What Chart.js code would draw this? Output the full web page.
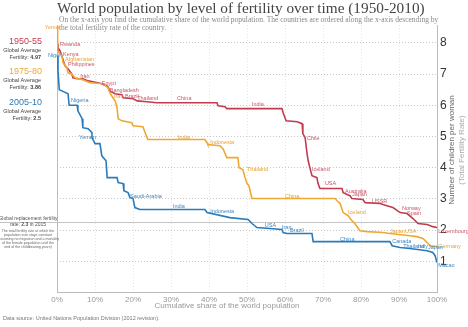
<!DOCTYPE html>
<html>
<head>
<meta charset="utf-8">
<style>
  html, body { margin: 0; padding: 0; background: #fff; }
</style>
</head>
<body>
<canvas id="fert" width="468" height="327"></canvas>
<script src="https://cdn.jsdelivr.net/npm/chart.js@4.4.0/dist/chart.umd.min.js"></script>
<script>
// cumulative share of world population (%) and total fertility rate
var red5055X = [0, 0.26, 0.8, 1.3, 2.1, 2.9, 3.9, 4.2, 5.3, 6.8, 8.2, 10.8, 11.8, 13.4, 13.9, 15.3, 17.1, 17.4, 20.0, 21.1, 23.7, 26.3, 42.1, 42.4, 44.2, 44.7, 59.2, 59.5, 60.3, 63.2, 64.5, 64.7, 65.3, 65.8, 66.1, 66.6, 67.1, 68.4, 68.7, 69.2, 75.0, 75.3, 77.1, 77.6, 80.5, 81.1, 85.0, 86.8, 88.4, 90.3, 92.1, 93.7, 95.0, 97.4, 98.9, 100];
var red5055Y = [7.97, 7.84, 7.74, 7.58, 7.26, 7.17, 7.0, 6.88, 6.85, 6.85, 6.78, 6.72, 6.69, 6.59, 6.46, 6.37, 6.34, 6.24, 6.21, 6.14, 6.11, 6.08, 6.08, 5.98, 5.95, 5.89, 5.89, 5.76, 5.5, 5.47, 5.41, 5.09, 4.96, 4.45, 4.22, 3.97, 3.74, 3.68, 3.49, 3.33, 3.33, 3.2, 3.1, 3.01, 2.98, 2.88, 2.85, 2.78, 2.72, 2.56, 2.53, 2.37, 2.21, 2.18, 2.11, 2.08];

var orange7580X = [0, 0.08, 0.26, 1.3, 1.6, 2.6, 2.9, 3.9, 4.7, 6.05, 8.7, 12.1, 13.4, 13.9, 14.7, 15.3, 15.8, 16.1, 17.1, 19.7, 20.0, 22.6, 23.2, 23.9, 38.9, 39.5, 39.7, 42.9, 43.7, 44.7, 47.6, 47.9, 48.9, 49.5, 50.0, 50.5, 51.3, 73.2, 73.7, 74.5, 75.3, 76.6, 77.6, 78.4, 79.7, 81.6, 85.8, 87.6, 92.9, 94.7, 96.3, 97.4, 98.2, 100];
var orange7580Y = [8.54, 7.81, 7.74, 7.58, 7.36, 7.2, 7.04, 7.0, 6.88, 6.85, 6.72, 6.69, 6.56, 6.4, 6.24, 6.14, 5.92, 5.57, 5.5, 5.44, 5.34, 5.31, 5.12, 4.9, 4.9, 4.8, 4.74, 4.7, 4.6, 4.32, 4.32, 4.0, 3.94, 3.68, 3.49, 3.42, 3.01, 3.01, 2.94, 2.85, 2.56, 2.46, 2.3, 2.21, 1.98, 1.95, 1.92, 1.89, 1.82, 1.79, 1.73, 1.6, 1.5, 1.47];

var blue0510X = [0, 0.26, 0.6, 1.3, 2.9, 3.2, 5.3, 5.5, 6.6, 6.8, 8.2, 9.2, 9.2, 10.0, 11.3, 11.8, 12.9, 13.2, 15.8, 16.1, 17.4, 17.6, 18.7, 19.2, 20.0, 20.5, 21.8, 38.9, 39.5, 45.5, 50.3, 51.3, 52.6, 59.2, 59.5, 60.5, 67.1, 67.4, 87.6, 88.2, 90.3, 92.9, 97.4, 98.9, 99.5, 100];
var blue0510Y = [7.58, 7.1, 6.5, 6.46, 6.37, 6.0, 6.0, 5.82, 5.57, 5.28, 5.25, 5.12, 4.96, 4.77, 4.77, 4.38, 4.22, 3.68, 3.68, 3.52, 3.49, 3.26, 3.2, 3.04, 3.01, 2.72, 2.66, 2.66, 2.56, 2.4, 2.34, 2.21, 2.08, 2.02, 1.92, 1.89, 1.89, 1.63, 1.63, 1.5, 1.44, 1.41, 1.34, 1.28, 1.18, 0.96];

// country labels on the curves
var redNames = ['Rwanda', 'Kenya', 'Philippines', 'Iran', 'Egypt', 'Bangladesh', 'Brazil', 'Thailand', 'China', 'India', 'Chile', 'Iceland', 'USA', 'Australia', 'Japan', 'USSR', 'Norway', 'Spain', 'Luxembourg'];
var redLabelX = [0.8, 1.6, 2.9, 6.1, 11.8, 13.9, 17.9, 21.1, 31.6, 51.3, 65.8, 67.1, 70.5, 75.8, 77.6, 82.9, 90.8, 92.1, 100.3];
var redLabelY = [7.93, 7.61, 7.29, 6.91, 6.71, 6.46, 6.27, 6.23, 6.23, 6.01, 4.92, 3.93, 3.48, 3.25, 3.13, 2.93, 2.68, 2.52, 1.94];

var orangeNames = ['Yemen', 'Afghanistan', 'Iran', 'India', 'Indonesia', 'Thailand', 'China', 'Iceland', 'Japan', 'USA', 'Germany'];
var orangeLabelX = [-3.2, 2.1, 15.0, 31.8, 40.3, 50.0, 60.0, 76.6, 87.6, 91.6, 100.3];
var orangeLabelY = [8.48, 7.48, 6.27, 4.98, 4.82, 3.93, 3.09, 2.55, 1.94, 1.94, 1.49];

var blueNames = ['Niger', 'Nigeria', 'Yemen', 'Saudi-Arabia', 'India', 'Indonesia', 'USA', 'Iran', 'Brazil', 'China', 'Canada', 'Thailand', 'Italy', 'Japan', 'Macao'];
var blueLabelX = [-2.4, 3.7, 5.8, 19.2, 30.5, 40.3, 54.7, 59.2, 61.3, 74.5, 88.2, 91.1, 95.0, 97.6, 100.3];
var blueLabelY = [7.58, 6.14, 4.98, 3.09, 2.74, 2.61, 2.16, 2.07, 2.0, 1.71, 1.62, 1.49, 1.46, 1.43, 0.85];

var periods = ['1950-55', '1975-80', '2005-10'];
var globalAverages = ['4.97', '3.86', '2.5'];
var replacementRate = 2.27;

var RED = '#c23b4e', ORANGE = '#f0a834', BLUE = '#2b7bba';

function points(xs, ys) {
   var pts = [];
   for (var i = 0; i < xs.length; i++) {
      pts.push({x: xs[i], y: ys[i]});
   }
   return pts;
}

var overlay = {
   id: 'overlay',
   beforeDatasetsDraw: function (chart) {
      var ctx = chart.ctx, y = chart.scales.y, area = chart.chartArea;
      var py = Math.round(y.getPixelForValue(replacementRate)) + 0.5;
      ctx.save();
      ctx.strokeStyle = '#c4c4c4';
      ctx.lineWidth = 1;
      ctx.beginPath();
      ctx.moveTo(0, py);
      ctx.lineTo(area.right, py);
      ctx.stroke();
      ctx.restore();
   },
   afterDraw: function (chart) {
      var ctx = chart.ctx, x = chart.scales.x, y = chart.scales.y;
      ctx.save();

      // title + subtitle
      ctx.textBaseline = 'alphabetic';
      ctx.textAlign = 'left';
      ctx.fillStyle = '#444';
      var title = 'World population by level of fertility over time (1950-2010)';
      ctx.font = '16px "Liberation Serif"';
      var tsize = 16 * 368 / ctx.measureText(title).width;
      ctx.font = tsize.toFixed(2) + 'px "Liberation Serif"';
      ctx.fillText(title, 57, 13);
      ctx.fillStyle = '#888';
      ctx.font = '7.5px "Liberation Serif"';
      ctx.fillText('On the x-axis you find the cumulative share of the world population. The countries are ordered along the x-axis descending by', 59, 22);
      ctx.fillText('the total fertility rate of the country.', 59, 30);

      // curve labels
      ctx.font = '5.5px "Liberation Sans"';
      ctx.textBaseline = 'middle';
      var groups = [
         [redNames, redLabelX, redLabelY, '#c9566a'],
         [orangeNames, orangeLabelX, orangeLabelY, '#e9a232'],
         [blueNames, blueLabelX, blueLabelY, '#3d87c2']
      ];
      groups.forEach(function (g) {
         ctx.fillStyle = g[3];
         for (var i = 0; i < g[0].length; i++) {
            ctx.fillText(g[0][i], x.getPixelForValue(g[1][i]), y.getPixelForValue(g[2][i]));
         }
      });

      // left side legend
      var colors = [RED, ORANGE, BLUE];
      var tops = [42, 72, 103];
      ctx.textAlign = 'right';
      for (var k = 0; k < periods.length; k++) {
         ctx.fillStyle = colors[k];
         ctx.font = '9px "Liberation Sans"';
         ctx.fillText(periods[k], 42, tops[k]);
         ctx.fillStyle = '#444';
         ctx.font = '5.5px "Liberation Sans"';
         ctx.fillText('Global Average', 41, tops[k] + 8);
         ctx.font = 'bold 5.5px "Liberation Sans"';
         var w = ctx.measureText(globalAverages[k]).width;
         ctx.fillText(globalAverages[k], 41, tops[k] + 15);
         ctx.font = '5.5px "Liberation Sans"';
         ctx.fillText('Fertility: ', 41 - w, tops[k] + 15);
      }

      // replacement fertility note
      var py = y.getPixelForValue(replacementRate);
      ctx.textAlign = 'center';
      ctx.fillStyle = '#555';
      ctx.font = '5px "Liberation Sans"';
      ctx.fillText('Global replacement fertility', 28, py - 3);
      ctx.font = 'bold 5px "Liberation Sans"';
      var bw = ctx.measureText('2.3').width;
      ctx.font = '5px "Liberation Sans"';
      var aw = ctx.measureText('rate: ').width, cw = ctx.measureText(' in 2015').width;
      var sx = 28 - (aw + bw + cw) / 2;
      ctx.textAlign = 'left';
      ctx.fillText('rate: ', sx, py + 3);
      ctx.font = 'bold 5px "Liberation Sans"';
      ctx.fillText('2.3', sx + aw, py + 3);
      ctx.font = '5px "Liberation Sans"';
      ctx.fillText(' in 2015', sx + aw + bw, py + 3);
      ctx.textAlign = 'center';
      ctx.font = '3.6px "Liberation Sans"';
      ctx.fillStyle = '#666';
      var note = ['The total fertility rate at which the', 'population size stays constant', '(assuming no migration and a mortality', 'of the female population until the', 'end of the childbearing years)'];
      for (var n = 0; n < note.length; n++) {
         ctx.fillText(note[n], 28, py + 9 + n * 4);
      }

      // axis titles
      ctx.fillStyle = '#999';
      ctx.font = '8px "Liberation Sans"';
      ctx.fillText('Cumulative share of the world population', 227, 306);
      ctx.translate(452, 150);
      ctx.rotate(-Math.PI / 2);
      ctx.fillStyle = '#666';
      ctx.font = '8px "Liberation Sans"';
      ctx.fillText('Number of children per woman', 0, 0);
      ctx.fillStyle = '#aaa';
      ctx.fillText('(Total Fertility Rate)', 0, 10);
      ctx.setTransform(1, 0, 0, 1, 0, 0);

      // source
      ctx.textAlign = 'left';
      ctx.fillStyle = '#777';
      ctx.font = '5.5px "Liberation Sans"';
      ctx.fillText('Data source: United Nations Population Division (2012 revision).', 3, 318);
      ctx.restore();
   }
};

var context = document.getElementById('fert').getContext('2d');
var myChart = new Chart(context, {
   type: 'line',
   data: {
      datasets: [
         {label: periods[2], data: points(blue0510X, blue0510Y), borderColor: BLUE, borderWidth: 1.6, pointRadius: 0, tension: 0, fill: false},
         {label: periods[1], data: points(orange7580X, orange7580Y), borderColor: ORANGE, borderWidth: 1.6, pointRadius: 0, tension: 0, fill: false},
         {label: periods[0], data: points(red5055X, red5055Y), borderColor: RED, borderWidth: 1.6, pointRadius: 0, tension: 0, fill: false}
      ]
   },
   options: {
      responsive: false,
      animation: false,
      layout: {padding: {left: 57, top: 25, right: 0, bottom: 0}},
      plugins: {legend: {display: false}, tooltip: {enabled: false}},
      scales: {
         x: {
            type: 'linear', min: 0, max: 100,
            afterFit: function (s) { s.height = 34.5; },
            ticks: {stepSize: 10, padding: 2, color: '#999', font: {family: 'Liberation Sans', size: 8},
               callback: function (v) { return v + '%'; }},
            grid: {drawTicks: false, color: function (c) { return c.tick && c.tick.value === 0 ? '#bbb' : '#e6e6e6'; }},
            border: {color: '#bbb', dash: function (c) { return c.tick && c.tick.value === 0 ? [] : [1, 2]; }}
         },
         y: {
            position: 'right', min: 0, max: 8.57,
            afterFit: function (s) { s.width = 31; },
            ticks: {stepSize: 1, padding: 3, color: '#333', font: {family: 'Liberation Sans', size: 12},
               callback: function (v) { return (v > 0 && Number.isInteger(v)) ? v : ''; }},
            grid: {drawTicks: false, color: function (c) { return (c.tick && c.tick.value > 0 && Number.isInteger(c.tick.value)) ? '#c8c8c8' : 'rgba(0,0,0,0)'; }},
            border: {color: '#bbb', dash: [1, 2]}
         }
      }
   },
   plugins: [overlay]
});
</script>
</body>
</html>
